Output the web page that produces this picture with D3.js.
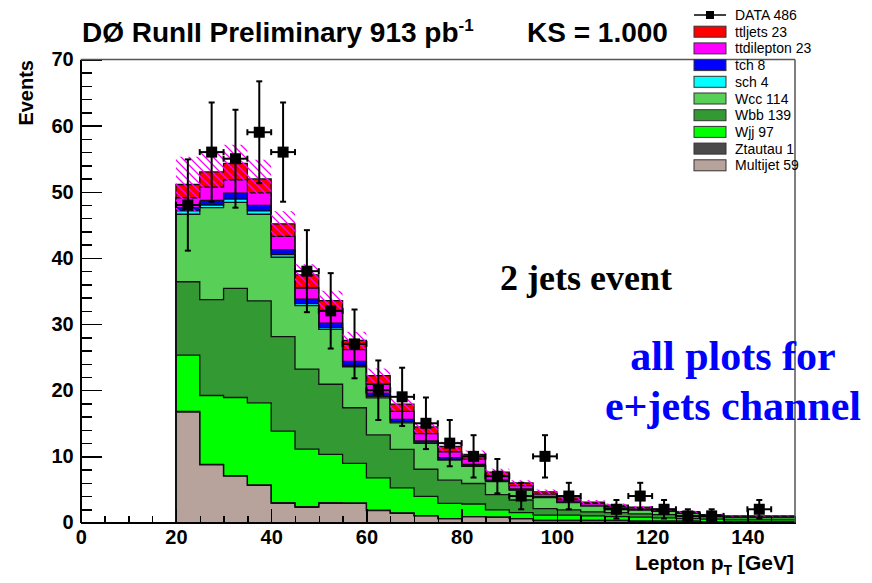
<!DOCTYPE html>
<html lang="en">
<head>
<meta charset="UTF-8">
<title>Lepton pT, 2 jets, e+jets</title>
<script src="https://d3js.org/d3.v7.min.js"></script>
<style>
  body { margin: 0; background: #fff; }
  svg { display: block; }
  .axis path, .axis line { stroke: #000; stroke-width: 1.5; shape-rendering: crispEdges; }
  .axis text { font-family: "Liberation Sans", Arial, sans-serif; font-weight: bold; font-size: 20px; fill: #000; }
  .legend text { font-family: "Liberation Sans", Arial, sans-serif; font-size: 14px; fill: #000; }
</style>
</head>
<body>
<svg id="chart" width="872" height="583"></svg>
<script>
// bin edges: 5 GeV bins from 20 to 150
const binLow = [20, 25, 30, 35, 40, 45, 50, 55, 60, 65, 70, 75, 80, 85, 90, 95, 100, 105, 110, 115, 120, 125, 130, 135, 140, 145];

// stacked MC components (events per bin), bottom to top
const multijet = [16.7, 8.7, 7.0, 5.6, 2.9, 2.3, 2.9, 2.9, 1.8, 1.4, 1.0, 0.6, 0.9, 0.8, 0.6, 0.3, 0.3, 0.3, 0.3, 0.2, 0.2, 0.2, 0.1, 0.1, 0.1, 0.1];
const ztautau  = [0.1, 0.1, 0.1, 0.1, 0.1, 0.1, 0.1, 0.05, 0.05, 0.05, 0.05, 0, 0, 0, 0, 0, 0, 0, 0, 0, 0, 0, 0, 0, 0, 0];
const wjj      = [8.5, 10.4, 11.8, 12.4, 10.8, 8.7, 7.3, 6.0, 4.9, 3.8, 2.9, 2.3, 1.9, 1.1, 0.9, 0.8, 0.8, 0.7, 0.6, 0.6, 0.5, 0.4, 0.4, 0.3, 0.3, 0.3];
const wbb      = [11.1, 14.5, 16.5, 15.4, 14.3, 12.1, 10.6, 8.4, 6.5, 5.8, 4.1, 3.5, 3.1, 2.3, 1.9, 1.0, 0.8, 0.6, 0.6, 0.5, 0.5, 0.4, 0.4, 0.4, 0.4, 0.4];
const wcc      = [10.2, 13.9, 13.0, 13.1, 12.0, 9.6, 8.3, 6.2, 5.6, 4.0, 3.9, 3.05, 2.6, 2.0, 1.5, 1.65, 1.1, 0.9, 0.6, 0.6, 0.5, 0.4, 0.1, 0.05, 0.05, 0.05];
const sch      = [0.5, 0.4, 0.5, 0.5, 0.4, 0.3, 0.25, 0.2, 0.2, 0.15, 0.1, 0.1, 0.08, 0.06, 0.05, 0.04, 0.03, 0.03, 0.02, 0.02, 0.02, 0.01, 0.01, 0.01, 0.01, 0.01];
const tch      = [0.5, 0.7, 0.9, 0.85, 0.75, 0.65, 0.7, 0.6, 0.45, 0.4, 0.3, 0.25, 0.2, 0.15, 0.12, 0.1, 0.08, 0.06, 0.05, 0.04, 0.03, 0.03, 0.03, 0.03, 0.03, 0.03];
const ttdilep  = [1.5, 2.0, 2.0, 1.9, 2.0, 1.7, 1.8, 1.8, 1.4, 1.2, 1.1, 0.9, 0.8, 0.6, 0.5, 0.4, 0.3, 0.3, 0.25, 0.2, 0.15, 0.1, 0.1, 0.05, 0.05, 0.05];
const ttljets  = [2.0, 2.3, 2.5, 2.1, 1.9, 2.0, 1.6, 1.4, 1.3, 1.1, 1.0, 0.8, 0.7, 0.6, 0.4, 0.35, 0.3, 0.2, 0.2, 0.15, 0.1, 0.1, 0.05, 0.05, 0.05, 0.05];

// half width of the hatched uncertainty band on the MC sum
const mcErr = [4.2, 3.0, 2.8, 2.9, 1.9, 1.6, 1.5, 1.3, 1.1, 1.0, 0.9, 0.7, 0.6, 0.5, 0.4, 0.35, 0.3, 0.3, 0.25, 0.2, 0.2, 0.15, 0.12, 0.1, 0.1, 0.1];

// data points
const dataCounts = [48, 56, 55, 59, 56, 38, 32, 27, 20, 19, 15, 12, 10, 7, 4, 10, 4, 0, 2, 4, 2, 1, 1, 0, 2, 0];
const dataErrs   = [6.9, 7.5, 7.4, 7.7, 7.5, 6.2, 5.7, 5.2, 4.5, 4.4, 3.9, 3.5, 3.2, 2.6, 2.0, 3.2, 2.0, 0, 1.4, 2.0, 1.4, 1.0, 1.0, 0, 1.4, 0];

// legend
const legendNames  = ["ttljets 23", "ttdilepton 23", "tch 8", "sch 4", "Wcc 114", "Wbb 139", "Wjj 97", "Ztautau 1", "Multijet 59"];
const legendColors = ["#ff0000", "#ff00ff", "#0000ff", "#00ffff", "#58d058", "#339933", "#00ff00", "#4a4a4a", "#b8a39c"];

const xTicksMajor = [0, 20, 40, 60, 80, 100, 120, 140];
const yTicksMajor = [0, 10, 20, 30, 40, 50, 60, 70];

const binWidth = 5;
const keys = ["multijet", "ztautau", "wjj", "wbb", "wcc", "sch", "tch", "ttdilep", "ttljets"];
const fills = {
  multijet: "#b8a39c", ztautau: "#4a4a4a", wjj: "#00ff00", wbb: "#339933",
  wcc: "#58d058", sch: "#00ffff", tch: "#0000ff", ttdilep: "#ff00ff", ttljets: "#ff0000"
};
const series = { multijet, ztautau, wjj, wbb, wcc, sch, tch, ttdilep, ttljets };

const table = binLow.map((lo, i) => {
  const row = { lo };
  keys.forEach(k => row[k] = series[k][i]);
  return row;
});

const svg = d3.select("#chart");
svg.append("rect").attr("width", 872).attr("height", 583).attr("fill", "#fff");

const x = d3.scaleLinear().domain([0, 150]).range([80.7, 795]);
const y = d3.scaleLinear().domain([0, 70]).range([522.5, 59.5]);

// hatch pattern for the MC uncertainty
const defs = svg.append("defs");
const pat = defs.append("pattern")
  .attr("id", "hatch")
  .attr("patternUnits", "userSpaceOnUse")
  .attr("width", 8).attr("height", 8);
pat.append("path")
  .attr("d", "M-1,-1 L9,9 M-9,-1 L1,9 M7,-1 L17,9")
  .attr("stroke", "#ff00ff").attr("stroke-width", 1.3);

// stack
const stacked = d3.stack().keys(keys)(table);

// helper: add a closing point at the last bin's upper edge for step curves
function withEnd(arr) {
  const last = arr[arr.length - 1];
  return arr.concat([{ lo: last.lo + binWidth, y0: last.y0, y1: last.y1 }]);
}

const area = d3.area()
  .curve(d3.curveStepAfter)
  .x(d => x(d.lo))
  .y0(d => y(d.y0))
  .y1(d => y(d.y1));

const outline = d3.line()
  .curve(d3.curveStepAfter)
  .x(d => x(d.lo))
  .y(d => y(d.y1));

const gStack = svg.append("g");
stacked.forEach(layer => {
  const pts = withEnd(layer.map(d => ({ lo: d.data.lo, y0: d[0], y1: d[1] })));
  gStack.append("path")
    .attr("d", area(pts))
    .attr("fill", fills[layer.key]);
});
stacked.forEach(layer => {
  const pts = layer.map(d => ({ lo: d.data.lo, y1: d[1] }));
  const full = [{ lo: pts[0].lo, y1: 0 }].concat(pts, [{ lo: pts[pts.length - 1].lo + binWidth, y1: pts[pts.length - 1].y1 }]);
  gStack.append("path")
    .attr("d", outline(full))
    .attr("fill", "none")
    .attr("stroke", "#111")
    .attr("stroke-width", 1.3);
});

// uncertainty band around stack top
const topLayer = stacked[stacked.length - 1];
const band = withEnd(topLayer.map((d, i) => ({ lo: d.data.lo, y0: d[1] - mcErr[i], y1: d[1] + mcErr[i] })));
svg.append("path")
  .attr("d", area(band))
  .attr("fill", "url(#hatch)");

// axes
const gx = svg.append("g").attr("class", "axis").attr("transform", `translate(0,${y(0)})`);
gx.call(d3.axisBottom(x).tickValues(xTicksMajor).tickSize(-14).tickSizeOuter(0).tickPadding(7).tickFormat(d3.format("d")));
svg.append("g").attr("class", "axis").attr("transform", `translate(0,${y(0)})`)
  .call(d3.axisBottom(x).tickValues(d3.range(0, 151, 5).filter(v => v % 20 !== 0)).tickSize(-7).tickSizeOuter(0).tickFormat(""))
  .select(".domain").remove();

const gy = svg.append("g").attr("class", "axis").attr("transform", `translate(${x(0)},0)`);
gy.call(d3.axisLeft(y).tickValues(yTicksMajor).tickSize(-21).tickSizeOuter(0).tickPadding(7).tickFormat(d3.format("d")));
svg.append("g").attr("class", "axis").attr("transform", `translate(${x(0)},0)`)
  .call(d3.axisLeft(y).tickValues(d3.range(0, 71, 2).filter(v => v % 10 !== 0)).tickSize(-11).tickSizeOuter(0).tickFormat(""))
  .select(".domain").remove();

// frame top and right
svg.append("line").attr("x1", x(0)).attr("x2", x(150)).attr("y1", y(70)).attr("y2", y(70))
  .attr("stroke", "#555").attr("stroke-width", 1.5);
svg.append("line").attr("x1", x(150)).attr("x2", x(150)).attr("y1", y(70)).attr("y2", y(0))
  .attr("stroke", "#555").attr("stroke-width", 1.5);

// data points with error bars
const gData = svg.append("g");
dataCounts.forEach((n, i) => {
  if (n <= 0) return;
  const cx = x(binLow[i] + binWidth / 2);
  const cy = y(n);
  const e = dataErrs[i];
  const xl = x(binLow[i]), xr = x(binLow[i] + binWidth);
  gData.append("line").attr("x1", cx).attr("x2", cx).attr("y1", y(n + e)).attr("y2", y(n - e))
    .attr("stroke", "#000").attr("stroke-width", 2);
  gData.append("line").attr("x1", cx - 3).attr("x2", cx + 3).attr("y1", y(n + e)).attr("y2", y(n + e))
    .attr("stroke", "#000").attr("stroke-width", 2);
  gData.append("line").attr("x1", cx - 3).attr("x2", cx + 3).attr("y1", y(n - e)).attr("y2", y(n - e))
    .attr("stroke", "#000").attr("stroke-width", 2);
  gData.append("line").attr("x1", xl).attr("x2", xr).attr("y1", cy).attr("y2", cy)
    .attr("stroke", "#000").attr("stroke-width", 2);
  gData.append("line").attr("x1", xl).attr("x2", xl).attr("y1", cy - 3).attr("y2", cy + 3)
    .attr("stroke", "#000").attr("stroke-width", 2);
  gData.append("line").attr("x1", xr).attr("x2", xr).attr("y1", cy - 3).attr("y2", cy + 3)
    .attr("stroke", "#000").attr("stroke-width", 2);
  gData.append("rect").attr("x", cx - 5.5).attr("y", cy - 5.5).attr("width", 11).attr("height", 11).attr("fill", "#000");
});

// axis titles
svg.append("text")
  .attr("transform", "translate(33,60) rotate(-90)")
  .attr("text-anchor", "end")
  .style("font-family", "Liberation Sans, Arial, sans-serif")
  .style("font-weight", "bold").style("font-size", "20px")
  .text("Events");

const xt = svg.append("text")
  .attr("x", 794).attr("y", 570)
  .attr("text-anchor", "end")
  .style("font-family", "Liberation Sans, Arial, sans-serif")
  .style("font-weight", "bold").style("font-size", "21px");
xt.append("tspan").text("Lepton p");
xt.append("tspan").attr("dy", 5).style("font-size", "14px").text("T");
xt.append("tspan").attr("dy", -5).text(" [GeV]");

// title
const title = svg.append("text")
  .attr("x", 82).attr("y", 42)
  .style("font-family", "Liberation Sans, Arial, sans-serif")
  .style("font-weight", "bold").style("font-size", "28px");
title.append("tspan").text("DØ RunII Preliminary 913 pb");
title.append("tspan").attr("dy", -11).style("font-size", "17px").text("-1");
svg.append("text")
  .attr("x", 527).attr("y", 42)
  .style("font-family", "Liberation Sans, Arial, sans-serif")
  .style("font-weight", "bold").style("font-size", "28px")
  .text("KS = 1.000");

// annotations
svg.append("text")
  .attr("x", 500).attr("y", 290)
  .style("font-family", "Liberation Serif, Times New Roman, serif")
  .style("font-weight", "bold").style("font-size", "36px")
  .text("2 jets event");
svg.append("text")
  .attr("x", 733).attr("y", 370).attr("text-anchor", "middle")
  .style("font-family", "Liberation Serif, Times New Roman, serif")
  .style("font-weight", "bold").style("font-size", "42px").attr("fill", "#0000ff")
  .text("all plots for");
svg.append("text")
  .attr("x", 733).attr("y", 420).attr("text-anchor", "middle")
  .style("font-family", "Liberation Serif, Times New Roman, serif")
  .style("font-weight", "bold").style("font-size", "42px").attr("fill", "#0000ff")
  .text("e+jets channel");

// legend
const lg = svg.append("g").attr("class", "legend");
const rowH = 16.7, ly0 = 15, lx = 694;
lg.append("line").attr("x1", lx).attr("x2", lx + 32).attr("y1", ly0).attr("y2", ly0)
  .attr("stroke", "#000").attr("stroke-width", 1.5);
lg.append("rect").attr("x", lx + 12).attr("y", ly0 - 4).attr("width", 8).attr("height", 8).attr("fill", "#000");
lg.append("text").attr("x", 735).attr("y", ly0 + 5).text("DATA 486");
legendNames.forEach((name, i) => {
  const cy = ly0 + rowH * (i + 1);
  lg.append("rect").attr("x", lx).attr("y", cy - 5.5).attr("width", 32).attr("height", 11)
    .attr("fill", legendColors[i]).attr("stroke", "#333").attr("stroke-width", 1);
  lg.append("text").attr("x", 735).attr("y", cy + 5).text(name);
});
</script>
</body>
</html>
